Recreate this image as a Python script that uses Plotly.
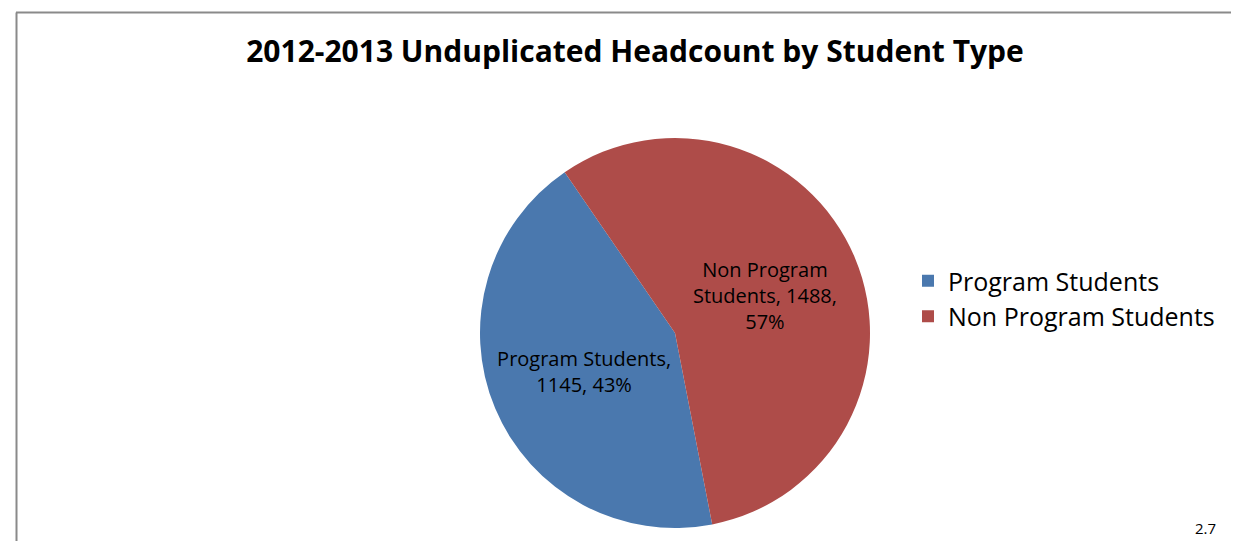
import plotly.graph_objects as go

title = "2012-2013 Unduplicated Headcount by Student Type"
categories = ["Program Students", "Non Program Students"]
values = [1145, 1488]
percents = ["43%", "57%"]
label_texts = ["Program Students,<br>1145, 43%", "Non Program<br>Students, 1488,<br>57%"]
colors = ["#4a78ae", "#ae4c49"]
footnote = "2.7"

W, H = 1239, 541
cx, cy, r = 667, 325, 195

fig = go.Figure()
fig.add_trace(go.Pie(
    labels=categories,
    values=values,
    text=label_texts,
    textinfo="text",
    textposition="inside",
    insidetextorientation="horizontal",
    sort=False,
    direction="clockwise",
    rotation=169,
    marker=dict(colors=colors, line=dict(width=0)),
    textfont=dict(family="Open Sans", size=20, color="#000000"),
    domain=dict(x=[(cx - r) / W, (cx + r) / W], y=[1 - (cy + r) / H, 1 - (cy - r) / H]),
    hoverinfo="label+value+percent",
))

fig.update_layout(
    width=W, height=H,
    margin=dict(l=0, r=0, t=0, b=0),
    paper_bgcolor="white",
    plot_bgcolor="white",
    uniformtext=dict(mode="show", minsize=20),
    title=dict(text="<b>" + title + "</b>", x=627 / W, xanchor="center", y=1 - 43 / H, yanchor="middle",
               font=dict(family="Open Sans", size=30, color="#000000")),
    legend=dict(x=900 / W, y=1 - 250 / H, xanchor="left", yanchor="top",
                font=dict(family="Open Sans", size=25, color="#000000"),
                tracegroupgap=0, itemsizing="constant", bgcolor="rgba(0,0,0,0)"),
    shapes=[
        dict(type="line", xref="paper", yref="paper", x0=8 / W, x1=1.0, y0=1 - 4.5 / H, y1=1 - 4.5 / H,
             line=dict(color="#8a8a8a", width=2)),
        dict(type="line", xref="paper", yref="paper", x0=8.5 / W, x1=8.5 / W, y0=0, y1=1 - 4.5 / H,
             line=dict(color="#8a8a8a", width=2)),
    ],
    annotations=[
        dict(text=footnote, xref="paper", yref="paper", x=1197 / W, y=1 - 520 / H,
             xanchor="center", yanchor="middle", showarrow=False,
             font=dict(family="Open Sans", size=15, color="#000000")),
    ],
)

fig.write_html("out.html")
